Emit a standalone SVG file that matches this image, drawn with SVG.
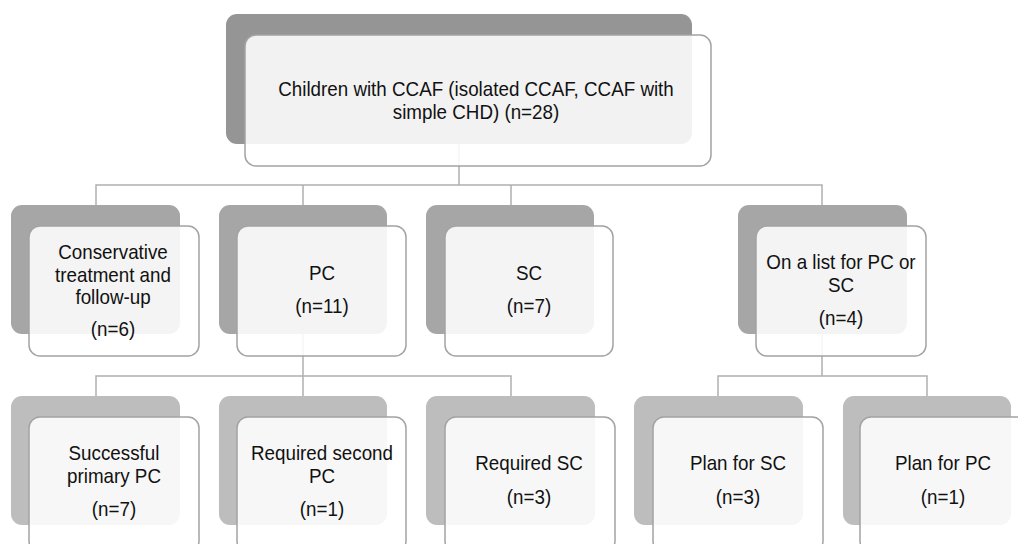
<svg xmlns="http://www.w3.org/2000/svg" width="1018" height="544" viewBox="0 0 1018 544">
<style>
.bg{fill:#ffffff}
.d1{fill:#959595}
.d2{fill:#a6a6a6}
.d3{fill:#bdbdbd}
.fr{fill:#ffffff;fill-opacity:0.88;stroke:#a3a3a3;stroke-width:1.5}
.ln{fill:none;stroke:#b0b0b0;stroke-width:1.5}
text{font-family:"Liberation Sans",Arial,sans-serif;font-size:20px;fill:#111;text-anchor:middle}
</style>
<rect class="bg" x="0" y="0" width="1018" height="544"/>
<g id="connectors">
<path class="ln" d="M459 144V185M96 205V185H822V205M303 185V205M511 185V205"/>
<path class="ln" d="M303 334V376M96 396V376H511V396M303 376V396"/>
<path class="ln" d="M822 334V376M718 396V376H927V396"/>
</g>
<g id="n-root">
<rect class="d1" x="226" y="14" width="466" height="130" rx="11"/>
<rect class="fr" x="245" y="35" width="466" height="131" rx="11"/>
<text transform="translate(476,96) scale(0.94,1)">Children with CCAF (isolated CCAF, CCAF with</text>
<text transform="translate(476,119) scale(0.94,1)">simple CHD) (n=28)</text>
</g>
<g id="n-conservative">
<rect class="d2" x="11" y="205" width="169" height="129" rx="11"/>
<rect class="fr" x="29" y="226" width="170" height="130" rx="11"/>
<text transform="translate(113,259) scale(0.94,1)">Conservative</text>
<text transform="translate(113,282) scale(0.94,1)">treatment and</text>
<text transform="translate(113,304) scale(0.94,1)">follow-up</text>
<text transform="translate(113,336) scale(0.94,1)">(n=6)</text>
</g>
<g id="n-pc">
<rect class="d2" x="219" y="205" width="168" height="129" rx="11"/>
<rect class="fr" x="237" y="226" width="169" height="130" rx="11"/>
<text transform="translate(322,280) scale(0.94,1)">PC</text>
<text transform="translate(322,313) scale(0.94,1)">(n=11)</text>
</g>
<g id="n-sc">
<rect class="d2" x="426" y="205" width="168" height="129" rx="11"/>
<rect class="fr" x="445" y="226" width="168" height="130" rx="11"/>
<text transform="translate(529,280) scale(0.94,1)">SC</text>
<text transform="translate(529,313) scale(0.94,1)">(n=7)</text>
</g>
<g id="n-list">
<rect class="d2" x="738" y="205" width="169" height="129" rx="11"/>
<rect class="fr" x="756" y="226" width="170" height="130" rx="11"/>
<text transform="translate(841,269) scale(0.94,1)">On a list for PC or</text>
<text transform="translate(841,292) scale(0.94,1)">SC</text>
<text transform="translate(841,325) scale(0.94,1)">(n=4)</text>
</g>
<g id="n-successful">
<rect class="d3" x="11" y="396" width="169" height="129" rx="11"/>
<rect class="fr" x="29" y="417" width="170" height="135" rx="11"/>
<text transform="translate(114,460) scale(0.94,1)">Successful</text>
<text transform="translate(114,483) scale(0.94,1)">primary PC</text>
<text transform="translate(114,516) scale(0.94,1)">(n=7)</text>
</g>
<g id="n-second">
<rect class="d3" x="219" y="396" width="168" height="129" rx="11"/>
<rect class="fr" x="237" y="417" width="169" height="135" rx="11"/>
<text transform="translate(322,460) scale(0.94,1)">Required second</text>
<text transform="translate(322,483) scale(0.94,1)">PC</text>
<text transform="translate(322,516) scale(0.94,1)">(n=1)</text>
</g>
<g id="n-reqsc">
<rect class="d3" x="426" y="396" width="169" height="129" rx="11"/>
<rect class="fr" x="445" y="417" width="170" height="135" rx="11"/>
<text transform="translate(529,470) scale(0.94,1)">Required SC</text>
<text transform="translate(529,504) scale(0.94,1)">(n=3)</text>
</g>
<g id="n-plansc">
<rect class="d3" x="634" y="396" width="169" height="129" rx="11"/>
<rect class="fr" x="653" y="417" width="170" height="135" rx="11"/>
<text transform="translate(738,470) scale(0.94,1)">Plan for SC</text>
<text transform="translate(738,504) scale(0.94,1)">(n=3)</text>
</g>
<g id="n-planpc">
<rect class="d3" x="843" y="396" width="168" height="129" rx="11"/>
<rect class="fr" x="860" y="417" width="170" height="135" rx="11"/>
<text transform="translate(943,470) scale(0.94,1)">Plan for PC</text>
<text transform="translate(943,504) scale(0.94,1)">(n=1)</text>
</g>
</svg>
